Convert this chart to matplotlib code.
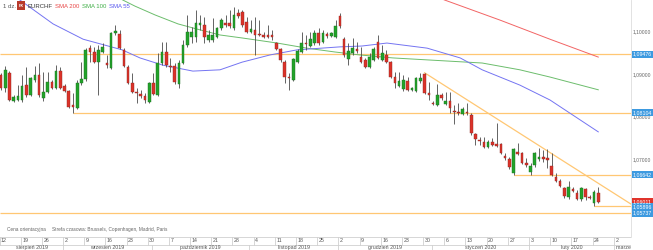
import matplotlib
matplotlib.use('Agg')
import matplotlib.pyplot as plt
import matplotlib.transforms as mtransforms
from matplotlib.patches import Rectangle
import numpy as np

plt.rcParams['font.family'] = ['Liberation Sans', 'DejaVu Sans']

# ---------------- data (EURCHF daily, trading-day index 0 = 12 Aug 2019) ----------------
opens = [1.0899, 1.0868, 1.0904, 1.0838, 1.0840, 1.0840, 1.0875, 1.0852, 1.0887, 1.0899,
         1.0845, 1.0859, 1.0882, 1.0868, 1.0908, 1.0873, 1.0861, 1.0828, 1.0821, 1.0880,
         1.0889, 1.0962, 1.0953, 1.0929, 1.0953, 1.0927, 1.0915, 1.0997, 1.0995, 1.0958,
         1.0918, 1.0880, 1.0859, 1.0854, 1.0850, 1.0835, 1.0880, 1.0852, 1.0927, 1.0953,
         1.0920, 1.0920, 1.0878, 1.0927, 1.0969, 1.0988, 1.0988, 1.1016, 1.1016, 1.0981,
         1.0981, 1.0988, 1.1009, 1.1021, 1.1021, 1.1009, 1.1044, 1.1047, 1.1023, 1.1000,
         1.1005, 1.0995, 1.0993, 1.0993, 1.0993, 1.0974, 1.0960, 1.0929, 1.0894, 1.0887,
         1.0929, 1.0953, 1.0974, 1.0967, 1.0974, 1.0997, 1.0976, 1.0995, 1.0990, 1.0988,
         1.1037, 1.0983, 1.0936, 1.0950, 1.0960, 1.0941, 1.0934, 1.0918, 1.0934, 1.0976,
         1.0934, 1.0946, 1.0929, 1.0894, 1.0873, 1.0866, 1.0885, 1.0864, 1.0861, 1.0885,
         1.0901, 1.0857, 1.0833, 1.0828, 1.0852, 1.0831, 1.0838, 1.0814, 1.0812, 1.0807,
         1.0812, 1.0805, 1.0760, 1.0746, 1.0741, 1.0730, 1.0741, 1.0737, 1.0737, 1.0709,
         1.0701, 1.0668, 1.0718, 1.0716, 1.0692, 1.0671, 1.0687, 1.0701, 1.0706, 1.0704,
         1.0685, 1.0659, 1.0650, 1.0633, 1.0612, 1.0631, 1.0621, 1.0607, 1.0631, 1.0612,
         1.0598, 1.0621]
highs = [1.0904, 1.0920, 1.0908, 1.0852, 1.0875, 1.0899, 1.0918, 1.0894, 1.0920, 1.0927,
         1.0906, 1.0906, 1.0887, 1.0922, 1.0918, 1.0878, 1.0864, 1.0857, 1.0887, 1.0929,
         1.0962, 1.0969, 1.0965, 1.0969, 1.0974, 1.0946, 1.1000, 1.1016, 1.1005, 1.0962,
         1.0922, 1.0904, 1.0868, 1.0864, 1.0857, 1.0882, 1.0904, 1.0950, 1.0976, 1.0976,
         1.0939, 1.0927, 1.0934, 1.0981, 1.1040, 1.1012, 1.1052, 1.1040, 1.1035, 1.1005,
         1.1033, 1.1012, 1.1033, 1.1040, 1.1052, 1.1059, 1.1054, 1.1052, 1.1035, 1.1028,
         1.1035, 1.1028, 1.1000, 1.1016, 1.1005, 1.0976, 1.0962, 1.0934, 1.0904, 1.0939,
         1.0960, 1.1000, 1.0993, 1.1000, 1.1005, 1.1009, 1.1005, 1.1000, 1.1000, 1.1028,
         1.1044, 1.0988, 1.0974, 1.0986, 1.0976, 1.0965, 1.0939, 1.0950, 1.0965, 1.0993,
         1.0969, 1.0958, 1.0932, 1.0906, 1.0906, 1.0899, 1.0894, 1.0871, 1.0894, 1.0904,
         1.0904, 1.0882, 1.0838, 1.0878, 1.0857, 1.0859, 1.0859, 1.0828, 1.0833, 1.0824,
         1.0833, 1.0810, 1.0763, 1.0753, 1.0753, 1.0746, 1.0751, 1.0786, 1.0739, 1.0716,
         1.0706, 1.0727, 1.0739, 1.0718, 1.0704, 1.0692, 1.0718, 1.0727, 1.0723, 1.0725,
         1.0716, 1.0668, 1.0654, 1.0636, 1.0650, 1.0636, 1.0629, 1.0636, 1.0633, 1.0617,
         1.0629, 1.0636]
lows = [1.0864, 1.0859, 1.0838, 1.0835, 1.0838, 1.0835, 1.0847, 1.0850, 1.0882, 1.0847,
        1.0838, 1.0857, 1.0866, 1.0866, 1.0866, 1.0859, 1.0821, 1.08104, 1.0819, 1.0875,
        1.0885, 1.0929, 1.0927, 1.0852, 1.0950, 1.0915, 1.0913, 1.0993, 1.0960, 1.0918,
        1.0878, 1.0857, 1.0833, 1.0845, 1.0833, 1.0833, 1.0852, 1.0850, 1.0922, 1.0918,
        1.0906, 1.0878, 1.0868, 1.0925, 1.0965, 1.0974, 1.0976, 1.1005, 1.0974, 1.0976,
        1.0976, 1.0986, 1.1005, 1.1012, 1.1009, 1.1005, 1.1033, 1.1012, 1.0997, 1.0997,
        1.0946, 1.0990, 1.0986, 1.0986, 1.0981, 1.0958, 1.0929, 1.0880, 1.0864, 1.0885,
        1.0927, 1.0950, 1.0958, 1.0965, 1.0969, 1.0969, 1.0974, 1.0986, 1.0988, 1.0986,
        1.1009, 1.0941, 1.0922, 1.0946, 1.0950, 1.0927, 1.0915, 1.0915, 1.0932, 1.0936,
        1.0932, 1.0927, 1.0892, 1.0868, 1.0871, 1.0861, 1.0861, 1.0861, 1.0859, 1.0880,
        1.0854, 1.0840, 1.0828, 1.0826, 1.0840, 1.0828, 1.0810, 1.0784, 1.0805, 1.0805,
        1.0805, 1.0758, 1.0734, 1.0734, 1.0727, 1.0727, 1.0732, 1.0730, 1.0713, 1.0699,
        1.0678, 1.06642, 1.0711, 1.0690, 1.0683, 1.0664, 1.0683, 1.0697, 1.0694, 1.0680,
        1.0661, 1.0647, 1.0636, 1.0610, 1.0607, 1.0624, 1.0605, 1.0603, 1.0605, 1.0607,
        1.05896, 1.0598]
closes = [1.0868, 1.0911, 1.0840, 1.0847, 1.0850, 1.0873, 1.0852, 1.0892, 1.0899, 1.0852,
          1.0859, 1.0882, 1.0868, 1.0908, 1.0868, 1.0861, 1.0824, 1.0824, 1.0880, 1.0889,
          1.0958, 1.0953, 1.0929, 1.0958, 1.0965, 1.0922, 1.0997, 1.1002, 1.0962, 1.0920,
          1.0880, 1.0859, 1.0857, 1.0850, 1.0840, 1.0880, 1.0854, 1.0927, 1.0953, 1.0922,
          1.0918, 1.0882, 1.0927, 1.0969, 1.1000, 1.1000, 1.1021, 1.1021, 1.0988, 1.0993,
          1.0993, 1.1009, 1.1028, 1.1016, 1.1014, 1.1040, 1.1037, 1.1016, 1.1000, 1.1007,
          1.0993, 1.0993, 1.0988, 1.0988, 1.0988, 1.0960, 1.0934, 1.0894, 1.0892, 1.0936,
          1.0955, 1.0974, 1.0972, 1.0983, 1.0997, 1.0974, 1.0997, 1.0990, 1.0997, 1.1014,
          1.1014, 1.0946, 1.0955, 1.0962, 1.0955, 1.0929, 1.0918, 1.0941, 1.0960, 1.0939,
          1.0950, 1.0929, 1.0894, 1.0880, 1.0885, 1.0887, 1.0864, 1.0868, 1.0892, 1.0892,
          1.0857, 1.0852, 1.0831, 1.0852, 1.0845, 1.0838, 1.0821, 1.0812, 1.0810, 1.0819,
          1.0810, 1.0763, 1.0748, 1.0744, 1.0730, 1.0741, 1.0734, 1.0732, 1.0716, 1.0704,
          1.0683, 1.0725, 1.0713, 1.0692, 1.0687, 1.0685, 1.0716, 1.0706, 1.0701, 1.0699,
          1.0664, 1.0650, 1.0638, 1.0614, 1.0636, 1.0626, 1.0607, 1.0633, 1.0612, 1.0610,
          1.0624, 1.06011]

sma55_idx = [1.7, 4.5, 12.3, 19.4, 28.6, 32.8, 38.2, 45.3, 51.7, 56.9, 63.5, 69.9, 80.0,
             85.2, 91.1, 100.6, 108.4, 113.6, 122.5, 129.6, 141]
sma55_val = [1.1094, 1.1075, 1.1019, 1.0983, 1.0958, 1.0939, 1.0922, 1.0908, 1.0911, 1.0929,
             1.0946, 1.0958, 1.0965, 1.0967, 1.0974, 1.0962, 1.0939, 1.0911, 1.0875, 1.0840, 1.0765]
sma100_idx = [26.2, 28.8, 31.6, 36.4, 41.8, 47.0, 51.7, 56.9, 65.2, 72.2, 78.8, 84.7, 92.5,
              101.3, 113.6, 122.5, 129.6, 141]
sma100_val = [1.1089, 1.1075, 1.1061, 1.1040, 1.1019, 1.1005, 1.0993, 1.0986, 1.0974, 1.0962,
              1.0953, 1.0946, 1.0939, 1.0934, 1.0927, 1.0911, 1.0894, 1.0864]
sma200_idx = [101.3, 104.8, 117.8, 129.6, 141]
sma200_val = [1.1089, 1.1075, 1.1028, 1.0983, 1.0941]

trend_idx = [100, 141]
trend_val = [1.0904, 1.0644]

level_vals = [1.09476, 1.08104, 1.06642, 1.05896, 1.05737]
level_start = [-1, 17, 121, 140, -1]

label_vals = [1.09476, 1.08104, 1.06642, 1.06011, 1.05896, 1.05737]
label_texts = ['1,09476', '1,08104', '1,06642', '1,06011', '1,05896', '1,05737']
label_colors = ['#3d9ae0', '#3d9ae0', '#3d9ae0', '#e0342c', '#3d9ae0', '#3d9ae0']

yticks = [1.10, 1.09, 1.08, 1.07, 1.06]
ytick_labels = ['1,10000', '1,09000', '1,08000', '1,07000', '1,06000']

week_idx = [0, 5, 10, 15, 20, 25, 30, 35, 40, 45, 50, 55, 60, 65, 70, 75, 80, 85, 90, 95,
            100, 105, 110, 115, 120, 125, 130, 135, 140, 145]
week_labels = ['12', '19', '26', '2', '9', '16', '23', '30', '7', '14', '21', '28', '4', '11',
               '18', '25', '2', '9', '16', '23', '30', '6', '13', '20', '27', '3', '10', '17',
               '24', '2']
month_start = [15, 36, 59, 80, 102, 125, 145]
month_labels = ['sierpień 2019', 'wrzesień 2019', 'październik 2019', 'listopad 2019',
                'grudzień 2019', 'styczeń 2020', 'luty 2020', 'marzec 2020']

# ---------------- figure ----------------
W, H = 653, 250
fig = plt.figure(figsize=(W / 100, H / 100), dpi=100)
fig.patch.set_facecolor('white')

plot_right = 631
ax = fig.add_axes([0, 13 / H, plot_right / W, 237 / H])
px_per_day = 4.236
xmin = -1 / px_per_day
xmax = (plot_right - 1) / px_per_day
ax.set_xlim(xmin, xmax)
ax.set_ylim(1.05176, 1.10753)
for s in ['top', 'left', 'bottom']:
    ax.spines[s].set_visible(False)
ax.spines['right'].set_color('#dddddd')
ax.spines['right'].set_linewidth(0.6)
ax.set_xticks([])
ax.set_yticks([])

# horizontal levels
for v, st in zip(level_vals, level_start):
    x0 = xmin if st < 0 else st
    ax.plot([x0, xmax], [v, v], color='#ffc773', lw=0.9, zorder=1, solid_capstyle='butt')

# trend line
slope = (trend_val[1] - trend_val[0]) / (trend_idx[1] - trend_idx[0])
ax.plot([trend_idx[0], xmax], [trend_val[0], trend_val[0] + slope * (xmax - trend_idx[0])],
        color='#ffc773', lw=0.9, zorder=1)

# SMAs
ax.plot(sma200_idx, sma200_val, color='#f26464', lw=0.7, zorder=2)
ax.plot(sma100_idx, sma100_val, color='#6cbd6c', lw=0.7, zorder=2)
ax.plot(sma55_idx, sma55_val, color='#7474f2', lw=0.7, zorder=2)

# candles
o = np.array(opens); h = np.array(highs); l = np.array(lows); c = np.array(closes)
x = np.arange(len(o))
ax.vlines(x, l, h, color='#4a4a4a', lw=0.6, zorder=3)
up = c >= o
body_bottom = np.minimum(o, c)
body_h = np.maximum(np.abs(c - o), 0.00008)
ax.bar(x[up], body_h[up], bottom=body_bottom[up], width=0.62, color='#22a32a',
       edgecolor='#1b6e1f', linewidth=0.3, zorder=4)
ax.bar(x[~up], body_h[~up], bottom=body_bottom[~up], width=0.62, color='#dc3229',
       edgecolor='#8e2a24', linewidth=0.3, zorder=4)

# right price axis
bt = mtransforms.blended_transform_factory(fig.transFigure, ax.transData)
for v, t in zip(yticks, ytick_labels):
    fig.text(633 / W, v, t, transform=bt, fontsize=3.6, color='#666666', va='center', ha='left')
box_h = 7 / 4250
for v, t, col in zip(label_vals, label_texts, label_colors):
    fig.patches.append(Rectangle((632 / W, v - box_h / 2), 21 / W, box_h, transform=bt,
                                 facecolor=col, edgecolor='none', zorder=5, figure=fig))
    fig.text(633 / W, v, t, transform=bt, fontsize=3.8, color='white', va='center',
             ha='left', zorder=6)

# header legend
fy = 1 - 6 / H
fig.text(3 / W, fy, '1 dz.', fontsize=4.3, color='#555555', va='center', ha='left')
fig.patches.append(Rectangle((17 / W, 1 - 10 / H), 8 / W, 9 / H, transform=fig.transFigure,
                             facecolor='#b83a2c', edgecolor='none', figure=fig))
fig.text(21 / W, fy, 'FX', fontsize=2.8, color='white', va='center', ha='center',
         fontweight='bold')
fig.text(27 / W, fy, 'EURCHF', fontsize=4.3, color='#333333', va='center', ha='left')
fig.text(55 / W, fy, 'SMA 200', fontsize=4.3, color='#e84545', va='center', ha='left')
fig.text(82 / W, fy, 'SMA 100', fontsize=4.3, color='#3fae46', va='center', ha='left')
fig.text(109 / W, fy, 'SMA 55', fontsize=4.3, color='#5656ee', va='center', ha='left')

# footer text
fig.text(7 / W, (H - 230) / H, 'Cena orientacyjna', fontsize=3.4, color='#666666',
         va='center', ha='left')
fig.text(52 / W, (H - 230) / H, 'Strefa czasowa: Brussels, Copenhagen, Madrid, Paris',
         fontsize=3.4, color='#666666', va='center', ha='left')

# date axis
ax2 = fig.add_axes([0, 0, plot_right / W, 13 / H])
ax2.set_xlim(xmin, xmax)
ax2.set_ylim(0, 13)
ax2.axis('off')
ax2.plot([xmin, xmax], [12.9, 12.9], color='#d0d0d0', lw=0.6)
ax2.plot([xmin, xmax], [5, 5], color='#d0d0d0', lw=0.6)
for wi, wl in zip(week_idx, week_labels):
    tx = wi - 0.35
    ax2.plot([tx, tx], [5, 13], color='#d0d0d0', lw=0.6)
    ax2.text(tx + 0.35, 9, wl, fontsize=3.8, color='#555555', va='center', ha='left',
             clip_on=True)
for ms in month_start:
    ax2.plot([ms - 0.35, ms - 0.35], [0, 5], color='#d0d0d0', lw=0.6)
bounds = [xmin] + [m - 0.35 for m in month_start] + [xmax]
for k, ml in enumerate(month_labels):
    a, b = bounds[k], bounds[k + 1]
    if b - a < 12:
        ax2.text(a + 0.5, 2.2, ml, fontsize=3.8, color='#555555', va='center', ha='left',
                 clip_on=True)
    else:
        ax2.text((a + b) / 2, 2.2, ml, fontsize=3.8, color='#555555', va='center',
                 ha='center', clip_on=True)

fig.savefig('out.png', dpi=100)
